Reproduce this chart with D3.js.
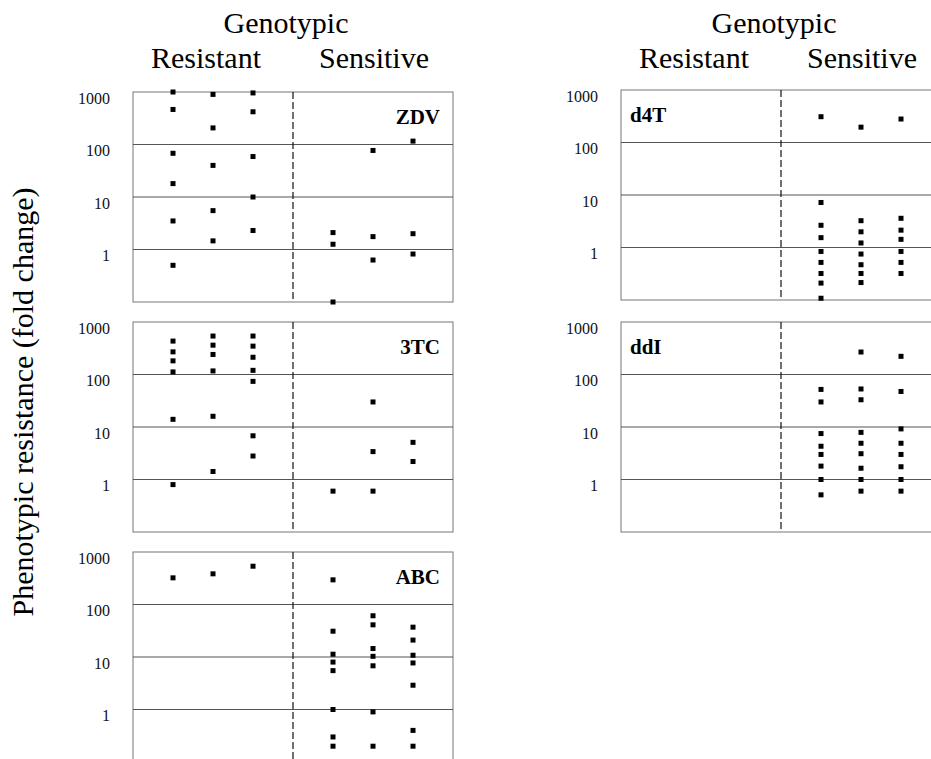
<!DOCTYPE html>
<html>
<head>
<meta charset="utf-8">
<script src="https://cdn.jsdelivr.net/npm/d3@7"></script>
<style>
  html, body { margin: 0; padding: 0; background: #fff; }
  svg { display: block; }
</style>
</head>
<body>
<div id="chart"></div>
<script>
// Fold-change values, one inner array per column:
// 3 genotypically resistant columns then 3 sensitive columns
const drugs = ['ZDV', '3TC', 'ABC', 'd4T', 'ddI'];

const zdvValues = [
  [1000, 465, 68, 18, 3.5, 0.5],
  [900, 207, 40, 5.5, 1.46],
  [960, 420, 59, 10, 2.3],
  [2.1, 1.26, 0.1],
  [77, 1.76, 0.63],
  [116, 2.0, 0.82]
];
const tcValues = [
  [433, 270, 182, 112, 14, 0.8],
  [540, 362, 241, 117, 16, 1.42],
  [540, 347, 213, 120, 74, 6.8, 2.8],
  [0.6],
  [30, 3.4, 0.6],
  [5.1, 2.2]
];
const abcValues = [
  [322],
  [384],
  [536],
  [295, 31, 11.3, 8, 5.5, 1.0, 0.3, 0.2],
  [61, 41, 14.5, 10.3, 6.8, 0.9, 0.2],
  [37, 21, 10.8, 7.7, 2.9, 0.4, 0.2]
];
const d4tValues = [
  [], [], [],
  [310, 7.2, 2.65, 1.54, 0.84, 0.52, 0.32, 0.21, 0.108],
  [196, 3.24, 1.99, 1.22, 0.75, 0.47, 0.32, 0.215],
  [280, 3.6, 2.14, 1.43, 0.84, 0.52, 0.32]
];
const ddiValues = [
  [], [], [],
  [52, 30, 7.5, 4.3, 3.0, 1.8, 1.0, 0.51],
  [268, 53, 33, 7.9, 4.9, 3.1, 1.64, 1.0, 0.6],
  [222, 47.5, 9.2, 4.9, 3.0, 1.75, 1.0, 0.6]
];

const tickValues = [1, 10, 100, 1000];
const tickLabels = ['1', '10', '100', '1000'];
const groupLabels = ['Resistant', 'Sensitive'];
const headerLabel = 'Genotypic';
const yLabel = 'Phenotypic resistance (fold change)';

// slot of each column on the 0..8 x domain, divider sits at 4
const columnSlots = [1, 2, 3, 5, 6, 7];

const width = 931;
const height = 759;
const serif = 'Liberation Serif';

const panels = [
  { name: drugs[0], values: zdvValues, x0: 133, top: 92, labelSide: 'right' },
  { name: drugs[1], values: tcValues, x0: 133, top: 322, labelSide: 'right' },
  { name: drugs[2], values: abcValues, x0: 133, top: 552, labelSide: 'right' },
  { name: drugs[3], values: d4tValues, x0: 621, top: 90, labelSide: 'left' },
  { name: drugs[4], values: ddiValues, x0: 621, top: 322, labelSide: 'left' }
];
const panelW = 320;
const panelH = 210;
const marker = 5;

const svg = d3.select('#chart').append('svg')
  .attr('width', width)
  .attr('height', height)
  .attr('font-family', serif);

panels.forEach(p => {
  const x = d3.scaleLinear().domain([0, 8]).range([p.x0, p.x0 + panelW]);
  const y = d3.scaleLog().domain([0.1, 1000]).range([p.top + panelH, p.top]);
  const g = svg.append('g');

  // frame
  g.append('rect')
    .attr('x', x(0)).attr('y', y(1000))
    .attr('width', x(8) - x(0)).attr('height', y(0.1) - y(1000))
    .attr('fill', 'none')
    .attr('stroke', '#777')
    .attr('stroke-width', 1);

  // horizontal grid at 1, 10, 100
  g.selectAll('line.grid')
    .data(tickValues.filter(d => d < 1000))
    .join('line')
    .attr('class', 'grid')
    .attr('x1', x(0)).attr('x2', x(8))
    .attr('y1', d => y(d)).attr('y2', d => y(d))
    .attr('stroke', '#555')
    .attr('stroke-width', 1);

  // dashed resistant / sensitive divider
  g.append('line')
    .attr('x1', x(4)).attr('x2', x(4))
    .attr('y1', y(1000)).attr('y2', y(0.1))
    .attr('stroke', '#111')
    .attr('stroke-width', 1.2)
    .attr('stroke-dasharray', '7,3');

  // y axis tick labels
  const axis = d3.axisLeft(y)
    .tickValues(tickValues)
    .tickFormat((d, i) => tickLabels[i])
    .tickSize(0)
    .tickPadding(23);
  const ax = g.append('g')
    .attr('transform', `translate(${x(0)},0)`)
    .call(axis)
    .attr('font-family', serif)
    .attr('font-size', 16);
  ax.select('.domain').remove();
  ax.selectAll('text')
    .attr('fill', '#111')
    .attr('dy', '0.7em');

  // points
  p.values.forEach((col, ci) => {
    g.selectAll(null)
      .data(col)
      .join('rect')
      .attr('x', x(columnSlots[ci]) - marker / 2)
      .attr('y', d => y(d) - marker / 2)
      .attr('width', marker)
      .attr('height', marker)
      .attr('fill', '#000');
  });

  // drug label
  g.append('text')
    .attr('x', p.labelSide === 'right' ? x(8) - 13 : x(0) + 9)
    .attr('y', y(1000) + 32)
    .attr('text-anchor', p.labelSide === 'right' ? 'end' : 'start')
    .attr('font-family', serif)
    .attr('font-size', 21)
    .attr('font-weight', 'bold')
    .text(p.name);
});

// column headers
[133, 621].forEach(x0 => {
  const x = d3.scaleLinear().domain([0, 8]).range([x0, x0 + panelW]);
  svg.append('text')
    .attr('x', x(4) - 7).attr('y', 33)
    .attr('text-anchor', 'middle')
    .attr('font-family', serif)
    .attr('font-size', 30)
    .text(headerLabel);
  groupLabels.forEach((lab, i) => {
    svg.append('text')
      .attr('x', i === 0 ? x(2) - 7 : x(6) + 1).attr('y', 68)
      .attr('text-anchor', 'middle')
      .attr('font-family', serif)
      .attr('font-size', 30)
      .text(lab);
  });
});

// y axis title
svg.append('text')
  .attr('transform', 'translate(33,402) rotate(-90)')
  .attr('text-anchor', 'middle')
  .attr('font-family', serif)
  .attr('font-size', 30)
  .text(yLabel);
</script>
</body>
</html>
